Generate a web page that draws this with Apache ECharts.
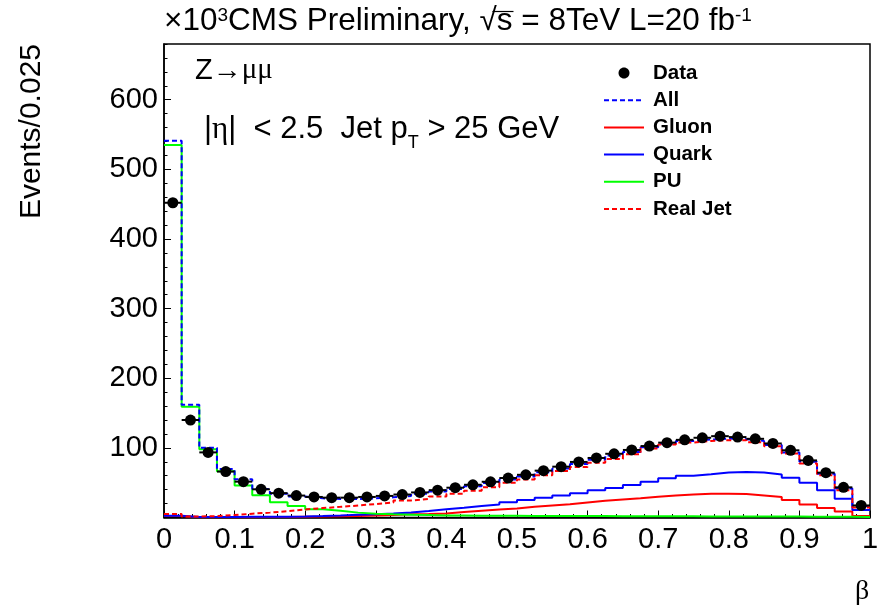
<!DOCTYPE html>
<html>
<head>
<meta charset="utf-8">
<script src="https://cdn.jsdelivr.net/npm/echarts@6/dist/echarts.min.js"></script>
<style>
  html, body { margin: 0; padding: 0; background: #fff; }
  #chart { width: 884px; height: 607px; }
</style>
</head>
<body>
<div id="chart"></div>
<script>
// beta distribution of jets in Z->mumu events, 40 bins of 0.025, values in units of 10^3 events
const binWidth = 0.025;

const dataEvents = [452, 140, 93.5, 66, 51.5, 40.5, 35, 31.5, 29.5, 28.5,
  28.5, 29.5, 31, 33, 36, 39.3, 42.8, 47, 51.3, 56.7,
  61.3, 67.3, 73, 79.8, 85.5, 91.5, 97, 102.6, 107.5, 111.5,
  114.5, 116.8, 115.5, 113, 106.3, 96.5, 82, 64.4, 43.3, 17.3];

const allJets = [541, 162, 100, 69.5, 55, 41, 34, 30, 27.5, 26.5,
  26.5, 27.5, 29, 31, 34, 37.5, 41, 45, 49.5, 54.5,
  59, 65, 70.5, 77, 83, 89, 94, 101, 106, 109.7,
  112, 113.4, 112.5, 110, 104, 93.5, 80, 63, 41.7, 16.4];

const gluonJets = [2, 0.5, 0.5, 0.5, 0.5, 0.6, 0.7, 1, 1.3, 1.8,
  2.3, 2.8, 3.5, 4.5, 5, 5.8, 7.8, 9.7, 11.6, 13,
  15.4, 17.3, 19.2, 21.6, 24, 26, 27.5, 29.7, 31.7, 33.1,
  34, 34, 33.6, 31.7, 29.3, 25, 18.8, 13.5, 8.7, 2];

const quarkJets = [2.5, 0.8, 0.8, 0.8, 1, 1, 1.2, 1.5, 2, 2.8,
  3.8, 4.8, 5.8, 7.2, 9.2, 12, 14, 16.4, 18.7, 22,
  25.2, 28.5, 31.5, 35, 39, 42.5, 46.5, 51.5, 56.5, 60,
  62, 64.5, 65.3, 64.5, 61.8, 57, 49.8, 39.3, 27, 10.6];

const puJets = [535, 159, 98, 66.5, 46, 32, 22, 16.5, 12, 9.7,
  7, 5.5, 4.5, 4, 3.5, 3, 2.8, 2.6, 2.5, 2.4,
  2.3, 2.2, 2.1, 2, 2, 1.9, 1.8, 1.8, 1.7, 1.7,
  1.6, 1.6, 1.5, 1.5, 1.4, 1.3, 1.2, 1.1, 1, 0.8];

const realJets = [5, 1.5, 2, 3.5, 5.5, 7, 9, 11.5, 13.5, 15.3,
  17.2, 19.3, 21.5, 24.5, 26.5, 30, 34, 38.3, 43.6, 49.8,
  54.6, 60.8, 66.6, 72.7, 78.5, 84, 91, 99, 104.8, 107.7,
  110, 111, 111, 108, 102.4, 92, 77.6, 60.8, 39.3, 14.4];

// step outline: one point per bin left edge plus the closing right edge
function histPoints(values) {
  const pts = values.map((v, i) => [i * binWidth, v]);
  pts.push([values.length * binWidth, values[values.length - 1]]);
  return pts;
}
const centers = dataEvents.map((v, i) => [(i + 0.5) * binWidth, v]);

const FONT = '"Liberation Sans", Arial, Helvetica, sans-serif';
const SERIF = '"Liberation Serif", "DejaVu Serif", serif';

function histSeries(name, values, color, dashed, z) {
  return {
    name: name,
    type: 'line',
    step: 'end',
    data: histPoints(values),
    showSymbol: false,
    symbol: 'none',
    silent: true,
    z: z,
    lineStyle: { color: color, width: 2, type: dashed ? [5, 3] : 'solid' },
    itemStyle: { color: color }
  };
}

// overbar of the square root in the title, placed from measured text widths
const TITLE_SIZE = 31.5, SUP_SIZE = 19, TITLE_LEFT = 164, TITLE_TOP = 6;
const measure = document.createElement('canvas').getContext('2d');
function textWidth(str, size) { measure.font = size + 'px ' + FONT; return measure.measureText(str).width; }
const rootStart = TITLE_LEFT + textWidth('×10', TITLE_SIZE) + textWidth('3', SUP_SIZE)
  + textWidth('CMS Preliminary, ', TITLE_SIZE);
const rootEnd = rootStart + textWidth('√s', TITLE_SIZE);
const barStart = rootStart + textWidth('√', TITLE_SIZE) * 0.75;

const lineLegend = name => ({ name: name, itemStyle: { opacity: 0 } });

const chart = echarts.init(document.getElementById('chart'), null, { renderer: 'canvas' });

chart.setOption({
  animation: false,
  backgroundColor: '#fff',
  textStyle: { fontFamily: FONT },
  grid: {
    left: 164, right: 14, top: 44, bottom: 89.5,
    show: true, borderColor: '#000', borderWidth: 1.5, backgroundColor: 'transparent'
  },
  title: {
    text: '×10{sup|3}CMS Preliminary, √s = 8TeV L=20 fb{sup|-1}',
    left: TITLE_LEFT, top: TITLE_TOP, padding: 0,
    textStyle: {
      fontFamily: FONT, fontSize: TITLE_SIZE, fontWeight: 'normal', color: '#000', lineHeight: 31,
      rich: {
        sup: { fontFamily: FONT, fontSize: SUP_SIZE, verticalAlign: 'top', lineHeight: 26, color: '#000' }
      }
    }
  },
  legend: {
    data: [
      { name: 'Data', icon: 'path://M0,0M40,14M25.5,7C25.5,10.04 23.04,12.5 20,12.5C16.96,12.5 14.5,10.04 14.5,7C14.5,3.96 16.96,1.5 20,1.5C23.04,1.5 25.5,3.96 25.5,7Z', itemStyle: { color: '#000', opacity: 1 } },
      lineLegend('All'), lineLegend('Gluon'), lineLegend('Quark'), lineLegend('PU'), lineLegend('Real Jet')
    ],
    orient: 'vertical',
    left: 603, top: 62.5, padding: 0,
    itemWidth: 40, itemHeight: 14, itemGap: 6.2,
    selectedMode: false,
    textStyle: { fontFamily: FONT, fontSize: 20.5, fontWeight: 'bold', color: '#000', lineHeight: 19, padding: [0, 0, 0, 4] }
  },
  xAxis: {
    type: 'value', min: 0, max: 1, interval: 0.1,
    axisLine: { show: true, onZero: false, lineStyle: { color: '#000', width: 1.5 } },
    axisTick: { show: true, inside: true, length: 7, lineStyle: { color: '#000', width: 1 } },
    minorTick: { show: true, splitNumber: 5, length: 3.5, lineStyle: { color: '#000', width: 1 } },
    splitLine: { show: false },
    axisLabel: {
      margin: 8, color: '#000', fontFamily: FONT, fontSize: 29,
      formatter: v => (Math.abs(v - Math.round(v)) < 1e-9 ? String(Math.round(v)) : v.toFixed(1))
    }
  },
  yAxis: [
    {
      type: 'value', min: 0, max: 680, interval: 100,
      axisLine: { show: true, onZero: false, lineStyle: { color: '#000', width: 1.5 } },
      axisTick: { show: true, inside: true, length: 7, lineStyle: { color: '#000', width: 1 } },
      splitLine: { show: false },
      axisLabel: {
        margin: 6, color: '#000', fontFamily: FONT, fontSize: 29,
        showMaxLabel: false, showMinLabel: false,
        formatter: v => (v > 0 && v % 100 === 0 ? String(v) : '')
      }
    },
    {
      // secondary divisions every 20 along the left edge
      type: 'value', min: 0, max: 680, interval: 20, position: 'left',
      axisLine: { show: false },
      axisTick: { show: true, inside: true, length: 3.5, lineStyle: { color: '#000', width: 1 } },
      splitLine: { show: false },
      axisLabel: { show: false }
    }
  ],
  graphic: [
    {
      type: 'line', silent: true,
      shape: { x1: barStart, y1: TITLE_TOP + 5.5, x2: rootEnd + 1, y2: TITLE_TOP + 5.5 },
      style: { stroke: '#000', lineWidth: 1.2 }
    },
    {
      type: 'text', left: 195, top: 56, silent: true,
      style: {
        text: 'Z→{g|μμ}', fill: '#000', font: '29px ' + FONT,
        rich: { g: { fontFamily: SERIF, fontSize: 29, fill: '#000' } }
      }
    },
    {
      type: 'text', left: 204, top: 114, silent: true,
      style: {
        text: '|{g|η}|  < 2.5  Jet p{sub|T} > 25 GeV', fill: '#000', font: '31px ' + FONT,
        rich: {
          g: { fontFamily: SERIF, fontSize: 31, fill: '#000' },
          sub: { fontFamily: FONT, fontSize: 18, verticalAlign: 'bottom', lineHeight: 45, fill: '#000' }
        }
      }
    },
    {
      type: 'text', x: 31.5, y: 44, rotation: Math.PI / 2, silent: true,
      style: { text: 'Events/0.025', fill: '#000', font: '30px ' + FONT, align: 'right', verticalAlign: 'middle' }
    },
    {
      type: 'text', x: 862, y: 592, silent: true,
      style: { text: 'β', fill: '#000', font: '28px ' + SERIF, align: 'center', verticalAlign: 'middle' }
    }
  ],
  series: [
    histSeries('Gluon', gluonJets, '#ff0000', false, 2),
    histSeries('Quark', quarkJets, '#0000ff', false, 3),
    histSeries('PU', puJets, '#00ff00', false, 4),
    histSeries('All', allJets, '#0000ff', true, 5),
    histSeries('Real Jet', realJets, '#ff0000', true, 6),
    {
      name: 'binSpan',
      type: 'custom',
      silent: true,
      z: 7,
      data: centers,
      renderItem: function (params, api) {
        const x = api.value(0), y = api.value(1);
        const a = api.coord([x - binWidth / 2, y]);
        const b = api.coord([x + binWidth / 2, y]);
        return {
          type: 'line',
          shape: { x1: a[0], y1: a[1], x2: b[0], y2: b[1] },
          style: { stroke: '#000', lineWidth: 2 }
        };
      }
    },
    {
      name: 'Data',
      type: 'scatter',
      data: centers,
      symbol: 'circle',
      symbolSize: 11,
      silent: true,
      z: 8,
      itemStyle: { color: '#000', opacity: 1 }
    }
  ]
});
</script>
</body>
</html>
